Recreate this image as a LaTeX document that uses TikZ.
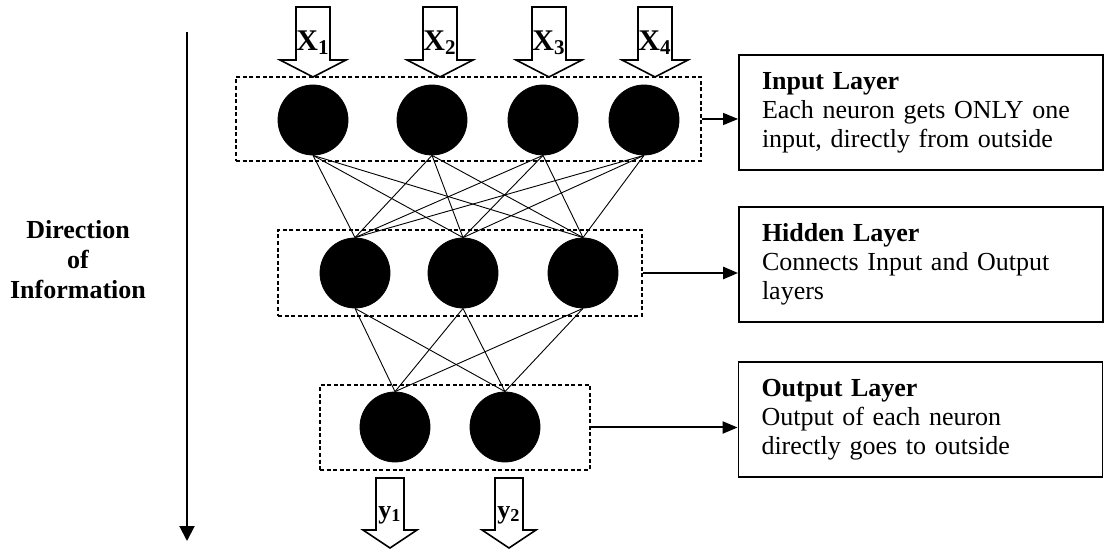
\documentclass[tikz,border=0pt]{standalone}
\usepackage{fontspec}
\setmainfont{Liberation Serif}
\usetikzlibrary{arrows.meta}
\tikzset{
  neuron/.style={circle, fill=black, draw=black, minimum size=35pt, inner sep=0pt},
  layerbox/.style={draw, dash pattern=on 2pt off 1.3pt, line width=0.6pt, inner sep=0pt},
  textbox/.style={draw, line width=0.9pt, minimum width=182pt, minimum height=57.5pt,
    text width=159pt, inner xsep=11.5pt, align=left,
    font=\fontsize{13}{14.5}\selectfont},
  conn/.style={line width=0.45pt},
  blk/.style={draw, line width=0.8pt, fill=white, line join=miter},
  xlab/.style={font=\fontsize{15}{17}\selectfont\bfseries, inner sep=0pt},
  ylab/.style={font=\fontsize{13}{15}\selectfont\bfseries, inner sep=0pt},
  side/.style={-{Triangle[length=7.5pt,width=6pt]}},
}
\begin{document}
\begin{tikzpicture}[x=0.5pt,y=-0.5pt]
\useasboundingbox (0,0) rectangle (1107,549);

% direction arrow
\coordinate (dtop) at (187,32);
\coordinate (dbot) at (187,541);
\draw[line width=1pt, -{Triangle[length=7.5pt,width=7.5pt]}] (dtop) -- (dbot);
\node[align=center, font=\fontsize{13}{15}\selectfont\bfseries] (dir) at (78,260) {Direction\\of\\Information};

% layer boxes
\node[layerbox, minimum width=232.5pt, minimum height=42pt] (inbox) at (468.5,119) {};
\node[layerbox, minimum width=182pt, minimum height=43pt] (hidbox) at (460,273) {};
\node[layerbox, minimum width=135pt, minimum height=42.5pt] (outbox) at (455,427.5) {};

% neurons
\foreach \x [count=\i] in {313,432,543,644} \node[neuron] (i\i) at (\x,120) {};
\foreach \x [count=\i] in {355,463,583} \node[neuron] (h\i) at (\x,273) {};
\foreach \x [count=\i] in {395,505} \node[neuron] (o\i) at (\x,427) {};

% connections
\foreach \i in {1,...,4} \foreach \j in {1,2,3} \draw[conn] (i\i.south) -- (h\j.north);
\foreach \j in {1,2,3} \foreach \k in {1,2} \draw[conn] (h\j.south) -- (o\k.north);

% input block arrows
\foreach \cx [count=\i] in {313,440,549,655} {
  \draw[blk] (\cx-17,7) -- (\cx+17,7) -- (\cx+17,60) -- (\cx+33,60) -- (\cx,77)
     -- (\cx-33,60) -- (\cx-17,60) -- cycle;
  \node[xlab] (x\i) at (\cx,43) {X\textsubscript{\i}};
}
% output block arrows
\foreach \cx [count=\k] in {390,509} {
  \draw[blk] (\cx-14,478) -- (\cx+14,478) -- (\cx+14,530) -- (\cx+27,530) -- (\cx,548)
     -- (\cx-27,530) -- (\cx-14,530) -- cycle;
  \node[ylab] (y\k) at (\cx,515) {y\textsubscript{\k}};
}

% text boxes
\node[textbox] (intext) at (921,112.5) {\textbf{Input Layer}\\Each neuron gets ONLY one\\input, directly from outside};
\node[textbox] (hidtext) at (921,264.5) {\textbf{Hidden Layer}\\Connects Input and Output\\layers};
\node[textbox] (outtext) at (920.5,419.5) {\textbf{Output Layer}\\Output of each neuron\\directly goes to outside};

% side arrows
\draw[side, line width=0.6pt] (inbox.east) -- (intext.west |- inbox.east);
\draw[side, line width=1.3pt] (hidbox.east) -- (hidtext.west |- hidbox.east);
\draw[side, line width=1pt] (outbox.east) -- (outtext.west |- outbox.east);
\end{tikzpicture}
\end{document}
